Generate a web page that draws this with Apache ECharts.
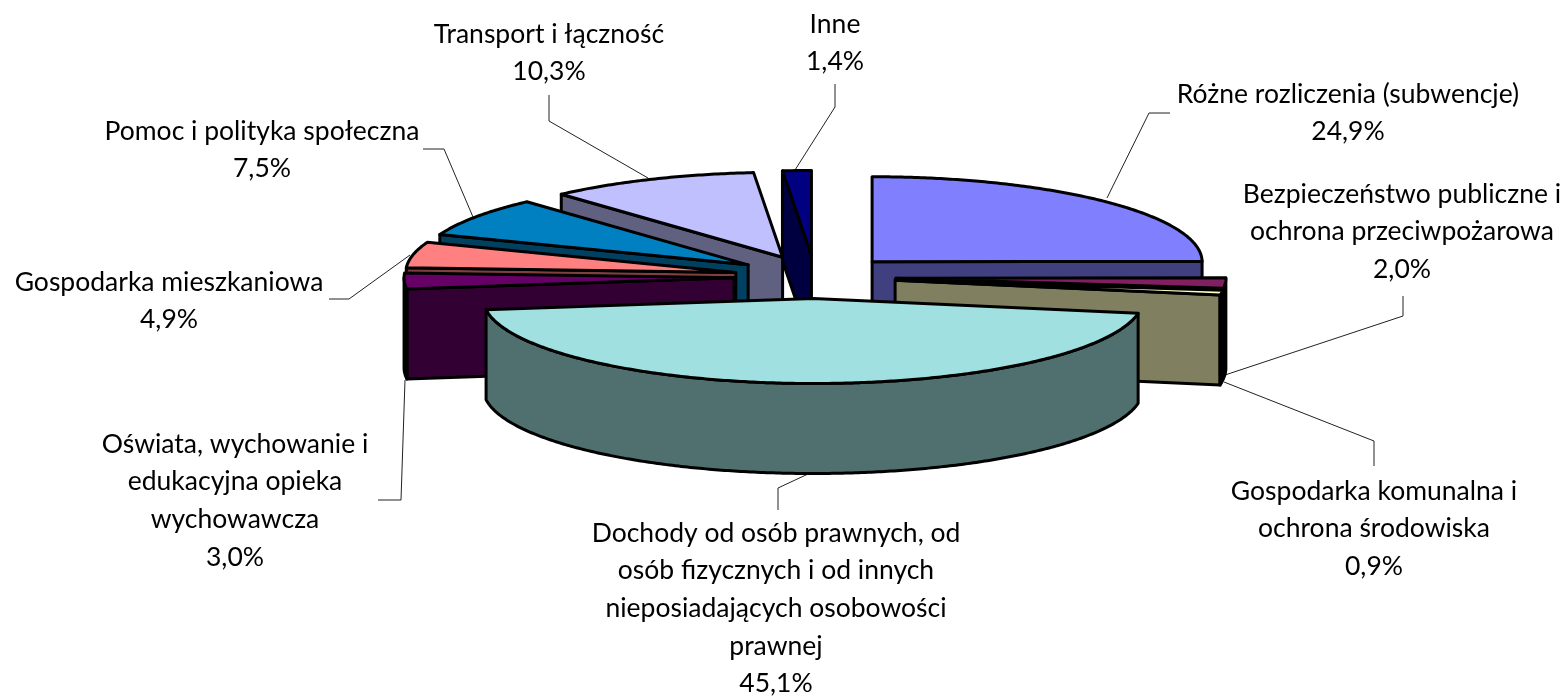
<!DOCTYPE html>
<html><head><meta charset="utf-8">
<style>html,body{margin:0;padding:0;background:#fff}#c{width:1568px;height:698px}</style>
<script src="https://cdn.jsdelivr.net/npm/echarts@6/dist/echarts.min.js"></script>
</head><body><div id="c"></div>
<script>
const categories = ["Różne rozliczenia (subwencje)","Bezpieczeństwo publiczne i\nochrona przeciwpożarowa","Gospodarka komunalna i\nochrona środowiska","Dochody od osób prawnych, od\nosób fizycznych i od innych\nnieposiadających osobowości\nprawnej","Oświata, wychowanie i\nedukacyjna opieka\nwychowawcza","Gospodarka mieszkaniowa","Pomoc i polityka społeczna","Transport i łączność","Inne"];
const values = [24.9,2.0,0.9,45.1,3.0,4.9,7.5,10.3,1.4];
const topColors = ["#8080FF","#802060","#FFFFC0","#A0E0E0","#660066","#FF8080","#0080C0","#C0C0FF","#000080"];
const wallColors = ["#404080","#401030","#808060","#507070","#330033","#804040","#004060","#606080","#000040"];
// label layout: [centre x, first line y]
const labelPos = [[1348,94],[1402,194],[1374,491],[776,533],[235,444],[169,282],[262,131],[549,34],[835,24]];
const leaders = [
 [[1107,198],[1149,113],[1170,113]],
 [[1225,375],[1403,316],[1403,296]],
 [[1224,382],[1374,441],[1374,466]],
 [[808,474],[778,488],[778,510]],
 [[405,380],[401,500],[378,500]],
 [[410,255],[349,299],[329,299]],
 [[473,217],[444,149],[423,149]],
 [[648,178],[549,121],[549,95]],
 [[795,170],[835,107],[835,84]]
];
const geom = {cx:815, cy:277, rx:330, ry:85, ex:81, ey:21.5, depth:90, lw:3};
const FONT = 'Lato', FS = 26.5, LH = 37.7;

const total = values.reduce((a,b)=>a+b,0);
let acc = 0;
const slices = values.map((v,i)=>{const a0=acc/total*2*Math.PI; acc+=v; const a1=acc/total*2*Math.PI; return {i,v,a0,a1,mid:(a0+a1)/2};});
const paint = slices.slice().sort((a,b)=>Math.cos(b.mid)-Math.cos(a.mid));

function renderSlice(params){
  const s = paint[params.dataIndex];
  const g = geom;
  const ox = g.cx + g.ex*Math.sin(s.mid), oy = g.cy - g.ey*Math.cos(s.mid);
  const P = a => [ox+g.rx*Math.sin(a), oy-g.ry*Math.cos(a)];
  const down = p => [p[0], p[1]+g.depth];
  const arc = (a,b)=>{const n=Math.max(2,Math.ceil((b-a)/0.01)),r=[];for(let k=0;k<=n;k++)r.push(P(a+(b-a)*k/n));return r;};
  const style = c => ({fill:c,stroke:'#000',lineWidth:g.lw,lineJoin:'round'});
  const poly = (pts,c) => ({type:'polygon',shape:{points:pts},style:style(c)});
  const kids = [];
  const apex=[ox,oy];
  if(Math.sin(s.a0)<-1e-6){const e=P(s.a0);kids.push(poly([apex,e,down(e),down(apex)],wallColors[s.i]));}
  if(Math.sin(s.a1)>1e-6){const e=P(s.a1);kids.push(poly([apex,e,down(e),down(apex)],wallColors[s.i]));}
  const lo=Math.max(s.a0,Math.PI/2), hi=Math.min(s.a1,1.5*Math.PI);
  if(hi>lo){const t=arc(lo,hi);kids.push(poly(t.concat(t.slice().reverse().map(down)),wallColors[s.i]));}
  kids.push(poly([apex].concat(arc(s.a0,s.a1)),topColors[s.i]));
  return {type:'group',children:kids};
}
function renderLabel(params){
  const i=params.dataIndex;
  const kids=[{type:'polyline',shape:{points:leaders[i]},style:{fill:null,stroke:'#222',lineWidth:1},z2:0}];
  const lines=categories[i].split('\n').concat([values[i].toFixed(1).replace('.',',')+'%']);
  lines.forEach((t,k)=>kids.push({type:'text',style:{text:t,x:labelPos[i][0],y:labelPos[i][1]+k*LH,align:'center',verticalAlign:'middle',font:FS+'px '+FONT,fill:'#000'}}));
  return {type:'group',children:kids};
}
const chart = echarts.init(document.getElementById('c'),null,{renderer:'canvas'});
chart.setOption({
  animation:false,
  backgroundColor:'#fff',
  series:[
    {type:'custom',coordinateSystem:'none',silent:true,z:1,renderItem:renderLabel,data:values.map((v,i)=>[i,v])},
    {type:'custom',coordinateSystem:'none',silent:true,z:2,renderItem:renderSlice,data:paint.map(s=>[s.i,s.v])}
  ]
});
</script></body></html>
